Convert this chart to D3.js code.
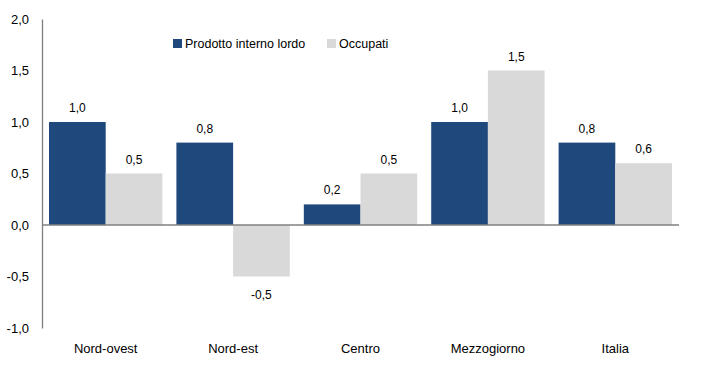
<!DOCTYPE html>
<html>
<head>
<meta charset="utf-8">
<script src="https://cdn.jsdelivr.net/npm/d3@7"></script>
<style>
  body { margin: 0; background: #fff; }
  text { font-family: "Liberation Sans", Arial, sans-serif; fill: #000; }
</style>
</head>
<body>
<div id="chart"></div>
<script>
const categories = ["Nord-ovest", "Nord-est", "Centro", "Mezzogiorno", "Italia"];
const seriesNames = ["Prodotto interno lordo", "Occupati"];
const pil = [1.0, 0.8, 0.2, 1.0, 0.8];
const occupati = [0.5, -0.5, 0.5, 1.5, 0.6];
const yTicks = [-1.0, -0.5, 0.0, 0.5, 1.0, 1.5, 2.0];
const colors = ["#1f497d", "#d9d9d9"];

const W = 711, H = 381;
const margin = { top: 19, right: 32, bottom: 53, left: 42 };
const width = W - margin.left - margin.right;
const height = H - margin.top - margin.bottom;

const fmt = v => d3.format(".1f")(v).replace(".", ",").replace("−", "-");

const svg = d3.select("#chart").append("svg")
  .attr("width", W).attr("height", H)
  .append("g")
  .attr("transform", `translate(${margin.left},${margin.top})`);

const x0 = d3.scaleBand().domain(categories).range([0, width]).paddingInner(0.11).paddingOuter(0.055);
const x1 = d3.scaleBand().domain(seriesNames).range([0, x0.bandwidth()]);
const y = d3.scaleLinear().domain([-1, 2]).range([height, 0]);

const data = categories.map((c, i) => ({ cat: c, vals: [pil[i], occupati[i]] }));

const groups = svg.selectAll("g.grp").data(data).enter().append("g")
  .attr("transform", d => `translate(${x0(d.cat)},0)`);

groups.selectAll("rect").data(d => d.vals.map((v, j) => ({ v, s: seriesNames[j], j })))
  .enter().append("rect")
  .attr("x", d => x1(d.s))
  .attr("width", x1.bandwidth())
  .attr("y", d => y(Math.max(0, d.v)))
  .attr("height", d => Math.abs(y(d.v) - y(0)))
  .attr("fill", d => colors[d.j]);

groups.selectAll("text.val").data(d => d.vals.map((v, j) => ({ v, s: seriesNames[j] })))
  .enter().append("text")
  .attr("class", "val")
  .attr("x", d => x1(d.s) + x1.bandwidth() / 2)
  .attr("y", d => d.v >= 0 ? y(d.v) - 10 : y(d.v) + 22)
  .attr("text-anchor", "middle")
  .attr("font-size", 12)
  .text(d => fmt(d.v));

// zero line
svg.append("line")
  .attr("x1", 0).attr("x2", width)
  .attr("y1", y(0)).attr("y2", y(0))
  .attr("stroke", "#808080").attr("stroke-width", 1.3);

// y axis
const yAxis = svg.append("g")
  .call(d3.axisLeft(y).tickValues(yTicks).tickFormat(fmt).tickSize(0).tickPadding(13));
yAxis.select(".domain").attr("stroke", "#808080").attr("stroke-width", 1.3);
yAxis.selectAll("text").attr("font-size", 13).attr("font-family", "Liberation Sans, Arial, sans-serif").attr("fill", "#000");

// category labels
svg.selectAll("text.cat").data(categories).enter().append("text")
  .attr("class", "cat")
  .attr("x", d => x0(d) + x0.bandwidth() / 2)
  .attr("y", height + 25)
  .attr("text-anchor", "middle")
  .attr("font-size", 13)
  .text(d => d);

// legend
const legX = [131, 285];
const leg = svg.selectAll("g.leg").data(seriesNames).enter().append("g")
  .attr("transform", (d, i) => `translate(${legX[i]},${20})`);
leg.append("rect").attr("width", 9).attr("height", 9).attr("fill", (d, i) => colors[i]);
leg.append("text").attr("x", 12).attr("y", 9).attr("font-size", 12.5).text(d => d);
</script>
</body>
</html>
